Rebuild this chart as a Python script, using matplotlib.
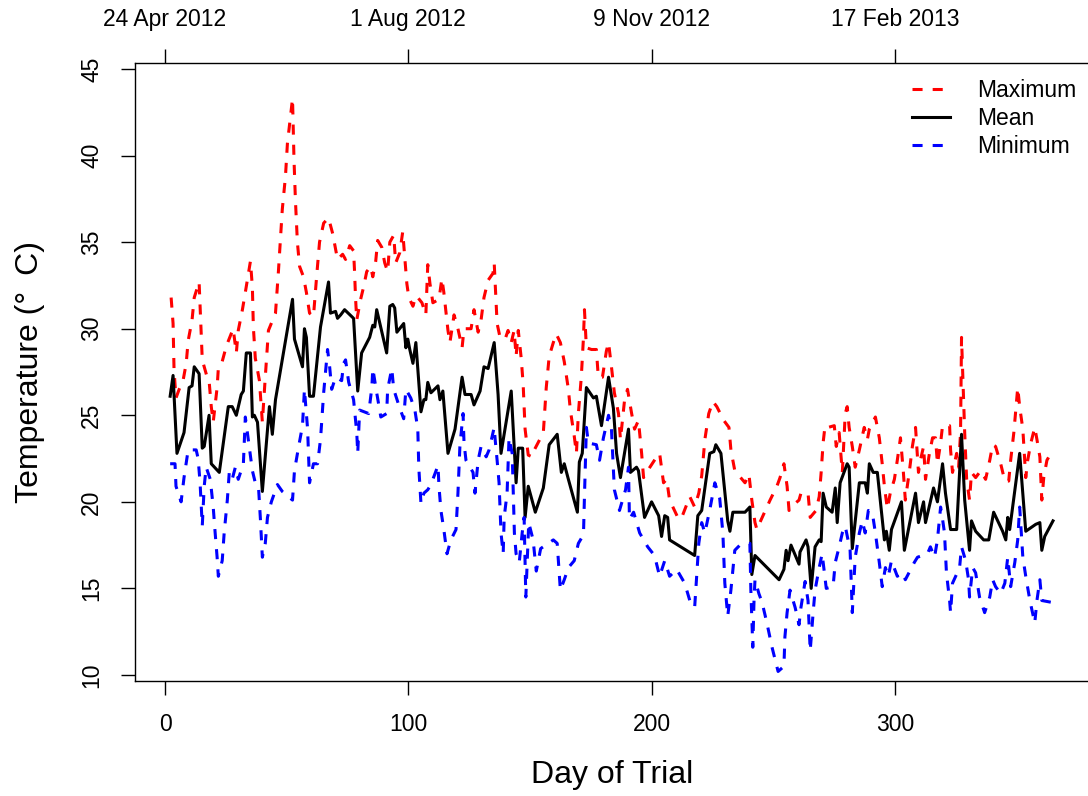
import numpy as np
import matplotlib.pyplot as plt

plt.rcParams['font.family'] = ['Liberation Sans', 'DejaVu Sans']

# Daily maximum temperature (day of trial, deg C)
day_max = [2.5, 3.3, 3.7, 4.5, 5.8, 7.4, 8.7, 9.5, 11.1, 12.0, 14.0, 14.8, 15.3, 17.3, 18.1, 19.0,
           19.8, 21.4, 21.9, 23.1, 25.2, 28.0, 29.3, 30.1, 31.8, 33.0, 35.1, 35.9, 36.3, 37.1, 38.8,
           40.0, 41.2, 42.5, 45.4, 46.6, 48.2, 49.5, 50.3, 51.5, 52.4, 53.0, 53.6, 54.4, 55.3, 56.9,
           58.1, 59.4, 61.0, 62.3, 63.5, 65.2, 67.2, 68.9, 70.9, 73.0, 74.2, 75.9, 77.5, 77.9, 78.3,
           78.8, 80.4, 81.6, 82.9, 84.5, 85.4, 86.6, 87.4, 89.1, 90.3, 91.5, 92.4, 94.0, 94.8, 96.5,
           97.7, 98.6, 99.4, 100.2, 101.9, 103.1, 103.9, 105.6, 107.2, 108.0, 108.9, 110.1, 112.6,
           113.8, 114.6, 116.3, 117.1, 118.8, 120.4, 122.1, 122.9, 125.8, 127.0, 128.7, 129.9, 131.1,
           132.8, 134.8, 135.3, 136.1, 136.5, 137.7, 139.8, 141.0, 142.3, 143.5, 144.3, 145.2, 146.4,
           147.2, 148.0, 149.3, 150.9, 151.8, 155.5, 156.7, 157.9, 159.6, 160.8, 162.5, 164.1, 165.8,
           166.6, 168.2, 169.1, 169.9, 171.1, 172.0, 172.4, 173.2, 175.3, 177.3, 178.1, 179.8, 181.4,
           182.3, 183.5, 184.7, 186.4, 187.2, 188.9, 190.1, 191.8, 193.0, 194.6, 195.9, 196.7, 197.9,
           202.1, 203.3, 204.9, 206.2, 207.4, 211.1, 212.4, 215.7, 217.7, 219.4, 220.6, 221.9, 223.5,
           225.2, 226.8, 229.7, 231.8, 232.6, 234.2, 238.4, 240.0, 241.2, 242.5, 243.3, 244.5, 247.4,
           248.7, 251.5, 252.8, 254.4, 255.7, 256.5, 258.1, 260.6, 261.4, 264.3, 265.2, 267.6, 268.9,
           269.7, 270.5, 271.3, 272.6, 275.1, 275.9, 277.1, 278.4, 279.6, 280.4, 281.2, 282.5, 283.7,
           285.4, 287.4, 288.7, 289.5, 292.0, 293.6, 294.8, 295.7, 296.9, 298.1, 299.8, 301.0, 302.3,
           303.5, 304.3, 306.0, 307.2, 308.5, 309.7, 310.5, 311.8, 312.6, 314.2, 315.5, 316.7, 317.5,
           318.8, 319.6, 322.5, 322.9, 323.7, 325.4, 326.2, 327.0, 327.2, 327.4, 327.8, 328.7, 329.5,
           330.7, 331.5, 333.2, 335.3, 337.3, 339.0, 340.2, 341.4, 343.5, 345.2, 346.8, 347.6, 348.9,
           349.7, 350.5, 351.3, 352.6, 353.8, 354.6, 355.9, 357.5, 358.4, 359.6, 360.4, 361.2, 362.5,
           364.1]
t_max = [31.8, 30.3, 27.6, 26.0, 26.5, 27.0, 28.0, 29.3, 30.5, 31.8, 32.7, 29.9, 28.2, 27.2, 27.0, 25.5,
         24.6, 26.6, 27.7, 27.9, 29.0, 30.0, 28.6, 29.9, 31.1, 32.1, 33.9, 32.4, 30.1, 28.3, 27.0,
         24.6, 27.2, 29.9, 30.9, 33.3, 36.9, 38.8, 40.7, 42.2, 43.3, 39.8, 37.4, 35.0, 33.6, 33.0,
         32.1, 30.9, 30.7, 33.0, 35.0, 36.1, 36.4, 35.5, 34.0, 34.3, 34.0, 34.8, 34.5, 33.3, 31.8,
         30.5, 31.7, 32.4, 33.3, 33.6, 33.0, 33.9, 35.1, 34.7, 33.8, 33.3, 35.0, 35.4, 33.8, 34.4,
         35.6, 34.0, 32.6, 31.8, 31.3, 31.9, 31.8, 31.5, 30.8, 33.7, 32.6, 31.5, 31.7,
         32.9, 32.1, 29.9, 29.2, 30.8, 30.0, 28.9, 30.0, 30.0, 31.1, 29.8, 30.5, 31.8,
         32.8, 33.2, 33.8, 31.5, 30.3, 29.5, 29.4, 29.9, 29.2, 29.9, 28.4, 29.9, 28.3,
         26.8, 24.2, 22.7, 22.6, 23.0, 24.0, 26.6, 28.4, 29.2, 29.7, 29.2, 28.1, 26.5,
         25.3, 23.8, 22.8, 25.1, 27.2, 29.5, 31.1, 28.9, 28.8, 28.8, 27.2, 27.2, 28.7,
         29.2, 27.8, 26.3, 25.1, 23.6, 25.9, 26.5, 25.1, 24.2, 24.7, 22.8, 21.4, 21.7,
         22.6, 22.8, 21.1, 21.3, 20.1, 19.0, 19.1, 20.3, 19.7, 20.5, 21.5, 23.6, 25.1,
         25.8, 25.5, 24.7, 24.3, 23.0, 21.8, 21.1, 21.6, 20.1, 18.8, 18.4, 18.8, 19.7,
         20.1, 20.9, 21.4, 22.2, 20.9, 19.5, 19.8, 20.1, 20.5, 20.5, 19.1, 19.5, 20.3,
         21.7, 23.4, 24.4, 24.3, 24.4, 23.2, 24.0, 21.7, 25.1, 25.5, 24.3, 23.2, 22.0,
         23.0, 24.3, 23.6, 24.2, 24.9, 23.7, 22.2, 20.9, 19.6, 20.5, 21.3, 22.4, 23.7,
         21.7, 20.1, 21.8, 23.2, 24.3, 21.7, 22.4, 23.2, 21.3, 22.8, 23.7, 23.7, 22.2,
         23.4, 24.4, 24.4, 23.0, 21.7, 22.8, 22.0, 24.0, 26.9, 29.5, 27.8, 24.0, 21.3,
         20.1, 21.7, 21.4, 21.8, 21.3, 22.4, 23.3, 23.2, 22.2, 21.2, 21.2, 22.4, 24.0,
         25.3, 26.6, 25.5, 24.2, 21.4, 22.4, 23.4, 24.3, 23.6, 22.6, 20.1, 21.4, 22.4,
         22.8]

# Daily mean temperature
day_mean = [2.1, 3.3, 4.9, 7.8, 9.9, 11.1, 12.0, 14.0, 15.3, 16.1, 18.1, 19.0, 22.3, 26.0, 27.6, 29.3,
            31.3, 32.2, 33.4, 35.1, 35.9, 36.7, 38.0, 40.0, 42.9, 44.1, 45.4, 52.4, 53.2, 56.5, 57.3,
            58.1, 59.4, 61.0, 63.9, 67.2, 68.0, 70.1, 70.9, 72.2, 73.8, 77.5, 79.2, 80.8, 84.1, 85.4,
            86.2, 87.0, 91.1, 92.4, 93.6, 94.4, 95.3, 98.1, 99.0, 99.8, 100.6, 101.9, 103.1, 105.2,
            106.4, 107.2, 108.0, 109.3, 112.2, 113.0, 114.2, 116.3, 119.2, 122.1, 123.3, 125.8, 127.0,
            129.5, 131.1, 132.8, 135.3, 136.9, 138.1, 142.3, 144.3, 145.2, 147.0, 148.0, 149.3, 152.2,
            155.5, 157.9, 161.2, 162.9, 164.1, 165.8, 169.5, 170.3, 171.5, 173.2, 176.1, 177.3, 179.4,
            182.3, 184.3, 185.6, 187.2, 190.5, 191.3, 193.8, 194.6, 197.1, 200.0, 202.9, 204.1, 205.4,
            206.6, 207.4, 217.7, 219.0, 220.6, 223.9, 225.6, 226.4, 228.5, 231.3, 232.2, 233.4, 238.4,
            240.4, 241.2, 242.5, 252.4, 254.4, 255.3, 256.1, 257.3, 260.6, 261.0, 263.5, 264.3, 265.6,
            267.2, 268.9, 269.7, 270.5, 271.8, 274.2, 275.5, 276.3, 277.5, 280.4, 281.2, 282.5, 284.1,
            285.4, 287.8, 288.7, 289.5, 291.1, 292.8, 295.7, 296.5, 297.7, 298.6, 302.7, 303.9, 308.5,
            309.7, 311.8, 312.6, 315.9, 317.5, 319.6, 320.8, 322.9, 325.4, 327.4, 328.7, 330.7, 331.5,
            333.2, 336.5, 338.6, 340.6, 344.3, 345.6, 346.4, 347.2, 351.3, 353.8, 357.9, 359.6, 360.4,
            361.6, 365.0]
t_mean = [26.1, 27.3, 22.8, 24.0, 26.6, 26.7, 27.8, 27.4, 23.1, 23.2, 25.0, 22.2, 21.7, 25.5, 25.5, 25.0,
          26.2, 26.4, 28.6, 28.6, 24.9, 25.0, 24.6, 20.6, 25.5, 23.9, 25.9, 31.7, 29.4, 27.8, 30.0,
          29.5, 26.1, 26.1, 30.1, 32.7, 30.9, 31.0, 30.6, 30.8, 31.1, 30.6, 26.4, 28.6, 29.5, 30.2,
          30.1, 31.1, 28.6, 31.3, 31.4, 31.2, 29.8, 30.3, 28.9, 29.4, 28.8, 28.0, 29.2, 25.2,
          25.9, 25.9, 26.9, 26.3, 26.7, 25.9, 26.4, 22.8, 24.2, 27.2, 26.2, 26.2, 25.6,
          26.4, 27.8, 27.7, 29.2, 26.2, 22.8, 26.4, 21.1, 23.1, 23.1, 19.1, 20.9, 19.4,
          20.8, 23.3, 23.9, 21.7, 22.2, 21.3, 19.4, 22.3, 22.8, 26.6, 26.0, 26.1, 24.4,
          27.2, 25.4, 22.8, 21.4, 24.2, 21.7, 22.0, 21.8, 19.1, 20.0, 19.2, 18.0, 19.2,
          19.1, 17.8, 16.9, 19.2, 19.5, 22.8, 22.9, 23.3, 22.8, 18.9, 18.3, 19.4, 19.4,
          19.7, 15.8, 16.9, 15.5, 16.1, 17.2, 16.6, 17.5, 16.4, 17.1, 17.8, 17.4, 15.0,
          17.4, 17.8, 17.7, 20.5, 19.7, 19.4, 20.8, 18.8, 21.1, 22.2, 22.0, 17.3, 19.4,
          21.1, 21.1, 20.5, 22.2, 21.7, 21.7, 17.8, 18.3, 17.2, 18.4, 20.0, 17.2, 20.5,
          18.8, 20.0, 18.8, 20.8, 20.0, 22.2, 20.5, 18.4, 18.4, 23.9, 20.1, 17.2, 18.9,
          18.3, 17.8, 17.8, 19.4, 18.3, 17.8, 19.1, 18.4, 22.8, 18.3, 18.7, 18.8, 17.2,
          18.0, 18.9]

# Daily minimum temperature
day_min = [2.1, 4.1, 4.5, 6.6, 7.8, 9.5, 12.8, 13.6, 14.4, 15.3, 16.1, 16.9, 18.6, 19.8, 20.6, 21.4,
           21.9, 23.5, 24.3, 25.6, 26.4, 27.6, 28.9, 30.1, 32.2, 33.0, 34.2, 35.9, 37.1, 38.4, 39.2,
           40.0, 41.2, 42.1, 43.7, 46.2, 48.2, 52.4, 53.2, 54.8, 56.5, 57.3, 58.6, 59.4, 61.0, 62.7,
           63.9, 65.2, 66.8, 67.6, 68.5, 70.1, 72.6, 73.4, 74.2, 75.5, 77.5, 78.8, 79.2, 80.0, 83.7,
           85.0, 85.4, 87.0, 88.7, 91.1, 91.5, 93.2, 94.0, 96.5, 98.1, 99.0, 101.0, 102.7, 103.9,
           104.3, 105.2, 106.4, 108.0, 109.3, 112.2, 112.6, 113.4, 114.6, 115.9, 117.5, 119.6, 120.4,
           121.2, 122.5, 122.9, 123.7, 126.6, 127.4, 128.7, 129.9, 132.0, 133.2, 135.3, 135.7, 136.5,
           137.3, 138.1, 139.0, 139.4, 140.6, 141.4, 142.7, 143.3, 143.6, 144.3, 145.6, 146.8, 147.6,
           148.3, 148.8, 149.5, 151.3, 152.6, 154.4, 159.6, 161.2, 162.5, 164.1, 165.8, 168.2, 169.9,
           172.0, 172.4, 173.2, 174.0, 177.3, 178.6, 180.2, 182.3, 183.5, 184.7, 186.8, 189.3, 190.5,
           190.9, 192.6, 195.1, 198.4, 201.2, 203.3, 205.4, 207.4, 210.3, 213.6, 215.7, 217.7, 218.6,
           219.4, 220.6, 221.9, 224.0, 226.0, 228.0, 229.3, 230.1, 231.3, 232.6, 233.8, 234.2, 236.3,
           240.4, 240.8, 241.6, 242.1, 242.5, 244.1, 245.4, 247.4, 249.5, 252.0, 254.4, 254.8, 255.7,
           256.9, 259.0, 260.6, 261.4, 263.1, 264.3, 264.7, 265.2, 266.4, 267.2, 268.9, 270.1, 271.8,
           274.6, 275.5, 277.1, 278.4, 279.6, 281.6, 282.5, 283.3, 283.7, 285.4, 286.6, 287.8, 289.1,
           290.7, 292.0, 293.6, 294.8, 296.1, 297.3, 298.6, 301.0, 303.1, 304.3, 308.0, 309.3, 313.4,
           314.6, 316.3, 317.5, 318.8, 319.6, 320.4, 321.2, 322.5, 322.9, 323.7, 326.6, 327.4, 329.1,
           330.3, 330.7, 332.0, 333.2, 334.8, 336.9, 339.0, 340.2, 341.4, 343.5, 345.2, 346.4, 347.6,
           349.3, 350.5, 351.3, 352.6, 353.8, 355.5, 357.5, 358.4, 359.6, 360.4, 364.2, 365.3]
t_min = [22.2, 22.2, 20.9, 20.0, 21.4, 23.0, 23.0, 22.5, 21.1, 18.6, 20.9, 22.0, 21.3, 19.7, 18.2, 16.8,
         15.7, 16.6, 18.2, 20.1, 21.7, 21.3, 22.0, 21.3, 22.2, 24.9, 23.6, 21.8, 21.1, 20.9, 19.0,
         16.8, 17.6, 19.1, 20.0, 21.0, 20.6, 20.1, 21.8, 23.1, 24.4, 26.5, 24.2, 21.1, 22.2, 22.2,
         23.6, 26.3, 28.8, 27.9, 26.5, 27.2, 27.0, 28.0, 28.2, 26.9, 25.9, 24.0, 22.8, 25.3, 25.1,
         26.6, 27.7, 26.3, 24.9, 25.1, 26.5, 27.7, 26.5, 25.4, 24.8, 26.5, 26.0, 25.3, 24.2,
         22.0, 19.9, 20.5, 20.7, 21.0, 22.1, 20.9, 19.5, 18.4, 17.0, 17.8, 18.4, 20.5,
         23.2, 25.1, 23.4, 22.4, 21.7, 20.5, 22.4, 23.2, 22.6, 23.0, 24.3, 23.6, 22.4,
         21.1, 18.2, 17.0, 19.1, 20.5, 23.7, 22.8, 19.7, 18.2, 17.0, 16.5, 18.2, 19.1,
         14.5, 16.3, 18.8, 17.8, 16.0, 17.3, 17.8, 17.6, 14.9, 15.5, 16.2, 16.6, 17.6,
         18.1, 20.3, 24.3, 23.4, 23.3, 22.4, 23.7, 25.0, 24.2, 20.7, 19.5, 20.7, 22.0,
         19.0, 19.4, 18.2, 17.4, 16.9, 15.7, 16.6, 15.7, 16.1, 15.3, 14.3, 13.9, 15.9,
         17.6, 18.8, 18.2, 19.6, 21.1, 20.2, 18.2, 15.3, 13.4, 14.9, 16.6, 17.2, 17.5,
         17.6, 14.9, 11.6, 14.3, 15.5, 14.7, 14.2, 13.0, 11.6, 10.2, 10.5, 12.2, 13.6,
         14.9, 13.9, 12.9, 13.9, 15.4, 14.3, 13.0, 11.4, 13.6, 14.9, 16.2, 17.0, 15.0,
         15.1, 16.5, 17.4, 18.2, 18.6, 17.2, 13.6, 15.7, 16.8, 18.2, 18.9, 18.2, 19.5,
         19.4, 18.2, 16.5, 15.1, 16.2, 15.7, 16.6, 15.7, 15.9, 15.5, 16.5, 16.8, 17.0,
         17.4, 16.8, 17.8, 19.7, 19.0, 18.2, 15.9, 14.3, 13.6, 15.3, 16.2, 17.4, 16.6,
         15.5, 14.5, 16.2, 15.9, 14.5, 13.6, 14.5, 15.5, 15.1, 14.7, 15.3, 16.8, 15.1,
         16.5, 17.8, 19.7, 16.8, 15.7, 14.3, 13.0, 14.3, 15.5, 14.3, 14.2, 14.5]

x_ticks = [0, 100, 200, 300]
date_labels = ['24 Apr 2012', '1 Aug 2012', '9 Nov 2012', '17 Feb 2013']
y_ticks = [10, 15, 20, 25, 30, 35, 40, 45]

W, H = 1088, 796
fig = plt.figure(figsize=(W / 100, H / 100), dpi=100)
ax = fig.add_axes([135 / W, 1 - 681 / H, (W + 1 - 135) / W, (681 - 63) / H])

lw = 2.2
dash = (0, (3.3, 3.3))
ax.plot(day_max, t_max, color='#ff0000', lw=lw, linestyle=dash, label='Maximum')
ax.plot(day_mean, t_mean, color='black', lw=lw, label='Mean')
ax.plot(day_min, t_min, color='#0000ff', lw=lw, linestyle=dash, label='Minimum')

ax.set_xlim(-12.35, 379.8)
ax.set_ylim(9.65, 45.35)
ax.set_xticks(x_ticks)
ax.set_yticks(y_ticks)
for sp in ax.spines.values():
    sp.set_linewidth(1.0)
ax.tick_params(direction='out', length=10, width=1.0, labelsize=16.5, pad=13)
for lab in ax.get_yticklabels():
    lab.set_rotation(90)
    lab.set_va('center')

top = ax.secondary_xaxis('top')
top.set_xticks(x_ticks, labels=date_labels)
top.tick_params(direction='out', length=10, width=1.0, labelsize=16.5, pad=13)
top.spines['top'].set_visible(False)

ax.set_xlabel('Day of Trial', fontsize=23)
# plotmath degree sign leaves a wider gap after it
ax.set_ylabel('Temperature (°\u2002C)', fontsize=23)
ax.xaxis.label.set_va('center')
ax.yaxis.label.set_va('center')
ax.xaxis.set_label_coords(0.5, (681 - 775) / 618)
ax.yaxis.set_label_coords((30 - 135) / 953, 0.5)

leg = ax.legend(loc='upper left', bbox_to_anchor=(912 / W, 1 - 79 / H),
                bbox_transform=fig.transFigure, frameon=False, fontsize=16.5,
                handlelength=1.65, handletextpad=1.2, labelspacing=0.22,
                borderpad=0, borderaxespad=0)

fig.savefig('out.png', dpi=100)
